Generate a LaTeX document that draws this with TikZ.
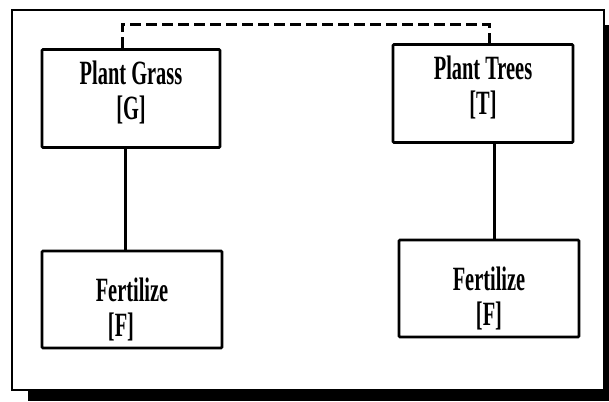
\documentclass[tikz,border=0pt]{standalone}
\usepackage{fontspec}
\setmainfont{Liberation Serif}
\usetikzlibrary{positioning}
\newcommand{\cond}[1]{\scalebox{0.6}[1]{#1}}
\tikzstyle{block} = [rectangle, draw, line width=2.8pt, fill=white, minimum width=180pt, minimum height=98pt, align=center, rounded corners=1pt, font=\fontsize{34}{35}\selectfont\bfseries]
\tikzstyle{line} = [draw, line width=3pt, color=black]
\tikzstyle{dline} = [draw, line width=3pt, color=black, dash pattern=on 11pt off 5pt]
\tikzstyle{frame} = [draw, line width=2pt]

\begin{document}
\begin{tikzpicture}[node distance = 200pt]
    \useasboundingbox (0,0) rectangle (609pt,-401pt);
    % Frame and its shadow
    \path [frame] (12pt,-10.5pt) rectangle (604pt,-390pt);
    \fill (28pt,-390pt) rectangle (609pt,-401pt);
    \fill (604pt,-25pt) rectangle (609pt,-401pt);
    % Place nodes
    \node [block, minimum width=178pt] (grass) at (131pt,-98.5pt) {\cond{Plant Grass}\\\cond{[G]}\rule[-16pt]{0pt}{0pt}};
    \node [block, right of=grass, node distance=352pt, yshift=5pt] (trees) {\cond{Plant Trees}\\\cond{[T]}\rule[-16pt]{0pt}{0pt}};
    \node [block, below of=grass, node distance=201pt, xshift=1pt, minimum height=97pt] (fertG) {\rule{0pt}{44pt}\cond{Fertilize}\\\cond{[F]}\hspace*{22pt}};
    \node [block, below of=trees, node distance=195pt, xshift=6pt, minimum height=97pt] (fertT) {\rule{0pt}{44pt}\cond{Fertilize}\\\cond{[F]}};
    % Draw edges
    \path [line] ([xshift=-6pt]grass.south) -- ([xshift=-7pt]fertG.north);
    \path [line] ([xshift=11pt]trees.south) -- ([xshift=5pt]fertT.north);
    \path [dline] ([xshift=-9pt]grass.north) -- ++(0,24pt) -| ([xshift=6pt]trees.north);
\end{tikzpicture}
\end{document}
